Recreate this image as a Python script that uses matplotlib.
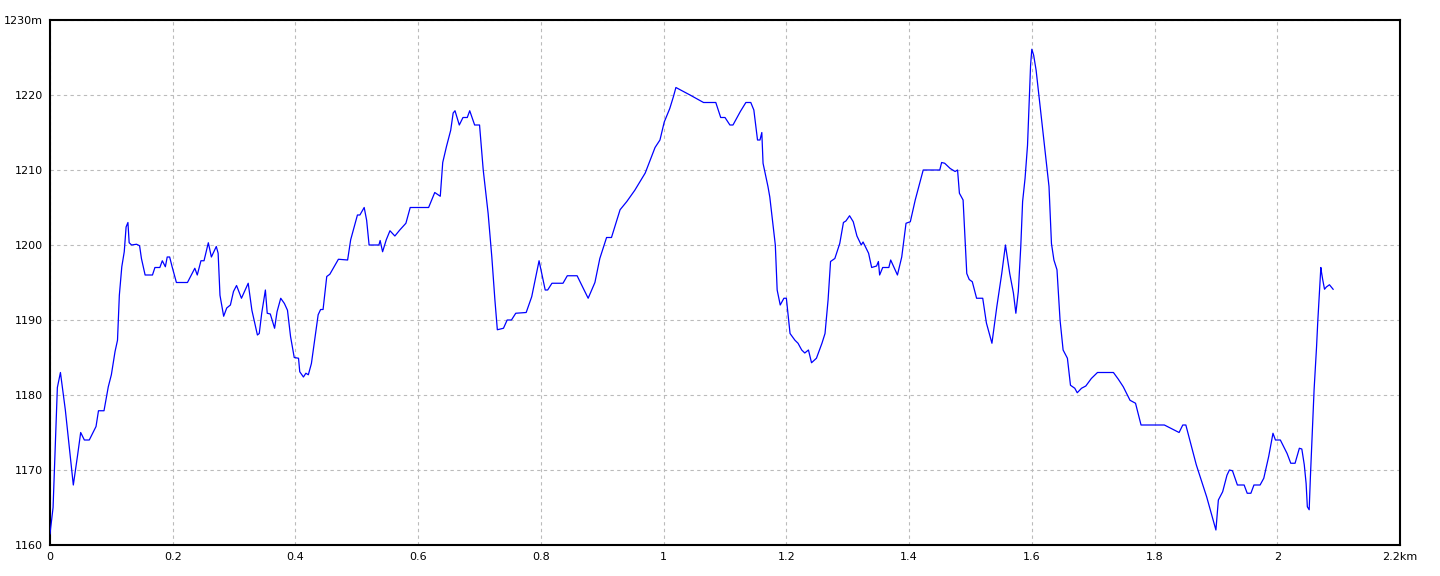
import matplotlib
matplotlib.use("Agg")
import matplotlib.pyplot as plt

dist_km = [
    0.000, 0.005, 0.012, 0.017, 0.025, 0.038, 0.045, 0.050, 0.056, 0.064, 0.075,
    0.079, 0.088, 0.095, 0.100, 0.106, 0.110, 0.113, 0.117, 0.121, 0.124, 0.127,
    0.129, 0.133, 0.141, 0.146, 0.149, 0.155, 0.167, 0.171, 0.179, 0.183, 0.188,
    0.191, 0.195, 0.199, 0.206, 0.224, 0.236, 0.240, 0.246, 0.251, 0.258, 0.263,
    0.271, 0.274, 0.277, 0.283, 0.288, 0.294, 0.299, 0.304, 0.312, 0.323, 0.329,
    0.338, 0.341, 0.345, 0.351, 0.354, 0.359, 0.366, 0.370, 0.376, 0.382, 0.387,
    0.392, 0.398, 0.405, 0.407, 0.413, 0.417, 0.421, 0.426, 0.432, 0.437, 0.441,
    0.445, 0.451, 0.456, 0.470, 0.485, 0.490, 0.495, 0.501, 0.505, 0.512, 0.516,
    0.520, 0.536, 0.538, 0.542, 0.548, 0.554, 0.562, 0.570, 0.580, 0.587, 0.617,
    0.622, 0.627, 0.636, 0.640, 0.646, 0.653, 0.657, 0.660, 0.667, 0.673, 0.680,
    0.684, 0.692, 0.700, 0.706, 0.714, 0.720, 0.725, 0.729, 0.739, 0.745, 0.752,
    0.759, 0.776, 0.785, 0.797, 0.807, 0.811, 0.818, 0.836, 0.843, 0.859, 0.877,
    0.888, 0.896, 0.907, 0.915, 0.929, 0.940, 0.953, 0.970, 0.986, 0.994, 1.001,
    1.010, 1.016, 1.020, 1.043, 1.065, 1.085, 1.093, 1.100, 1.108, 1.113, 1.125,
    1.134, 1.142, 1.147, 1.153, 1.157, 1.160, 1.162, 1.170, 1.173, 1.182, 1.185,
    1.190, 1.196, 1.200, 1.206, 1.214, 1.219, 1.225, 1.230, 1.236, 1.241, 1.249,
    1.258, 1.263, 1.268, 1.272, 1.279, 1.287, 1.293, 1.297, 1.303, 1.309, 1.315,
    1.322, 1.325, 1.334, 1.339, 1.347, 1.350, 1.352, 1.357, 1.367, 1.370, 1.381,
    1.388, 1.395, 1.402, 1.410, 1.423, 1.450, 1.453, 1.458, 1.467, 1.475, 1.479,
    1.482, 1.488, 1.494, 1.498, 1.503, 1.510, 1.520, 1.526, 1.535, 1.543, 1.551,
    1.557, 1.564, 1.570, 1.574, 1.578, 1.582, 1.585, 1.589, 1.593, 1.596, 1.598,
    1.600, 1.603, 1.607, 1.613, 1.621, 1.628, 1.632, 1.636, 1.641, 1.646, 1.651,
    1.658, 1.663, 1.670, 1.674, 1.681, 1.688, 1.697, 1.707, 1.733, 1.741, 1.749,
    1.760, 1.769, 1.778, 1.816, 1.840, 1.846, 1.851, 1.868, 1.885, 1.900, 1.904,
    1.911, 1.918, 1.922, 1.927, 1.935, 1.946, 1.951, 1.957, 1.962, 1.972, 1.978,
    1.986, 1.993, 1.997, 2.005, 2.016, 2.022, 2.029, 2.036, 2.040, 2.044, 2.047,
    2.049, 2.052, 2.054, 2.057, 2.060, 2.064, 2.066, 2.068, 2.070, 2.071, 2.072,
    2.074, 2.077, 2.080, 2.085, 2.091,
]
elev_m = [
    1161.5, 1165.0, 1181.0, 1183.0, 1178.0, 1168.0, 1172.0, 1175.0, 1174.0, 1174.0, 1175.8,
    1177.9, 1177.9, 1181.1, 1182.7, 1185.8, 1187.3, 1193.3, 1197.1, 1199.1, 1202.4, 1203.0,
    1200.3, 1200.0, 1200.1, 1199.9, 1198.2, 1196.0, 1196.0, 1197.0, 1197.0, 1197.9, 1197.1,
    1198.4, 1198.4, 1197.1, 1195.0, 1195.0, 1196.9, 1196.0, 1197.9, 1197.9, 1200.3, 1198.4,
    1199.8, 1198.9, 1193.3, 1190.5, 1191.6, 1192.0, 1193.8, 1194.6, 1192.9, 1194.9, 1191.3,
    1188.0, 1188.2, 1190.9, 1194.0, 1190.9, 1190.8, 1188.9, 1191.1, 1192.9, 1192.2, 1191.3,
    1187.8, 1185.0, 1184.9, 1183.1, 1182.4, 1182.9, 1182.7, 1184.2, 1187.8, 1190.7, 1191.4,
    1191.4, 1195.8, 1196.1, 1198.1, 1198.0, 1200.7, 1202.2, 1204.0, 1204.0, 1205.0, 1203.3,
    1200.0, 1200.0, 1200.6, 1199.1, 1200.7, 1201.9, 1201.2, 1202.0, 1202.9, 1205.0, 1205.0,
    1206.0, 1207.0, 1206.5, 1211.0, 1213.1, 1215.3, 1217.6, 1217.9, 1216.0, 1217.0, 1217.0,
    1217.9, 1216.0, 1216.0, 1210.0, 1204.2, 1198.4, 1192.7, 1188.7, 1188.9, 1190.0, 1190.0,
    1190.9, 1191.0, 1193.1, 1197.9, 1194.0, 1194.0, 1194.9, 1194.9, 1195.9, 1195.9, 1192.9,
    1195.0, 1198.2, 1201.0, 1201.0, 1204.7, 1205.8, 1207.3, 1209.6, 1213.0, 1214.0, 1216.4,
    1218.2, 1219.8, 1221.0, 1220.0, 1219.0, 1219.0, 1217.0, 1217.0, 1216.0, 1216.0, 1217.8,
    1219.0, 1219.0, 1218.0, 1214.0, 1214.0, 1215.0, 1210.9, 1207.8, 1206.4, 1200.0, 1194.0,
    1192.0, 1192.9, 1192.9, 1188.2, 1187.3, 1186.9, 1186.0, 1185.6, 1186.0, 1184.3, 1184.9,
    1186.9, 1188.2, 1192.7, 1197.8, 1198.2, 1200.2, 1203.0, 1203.2, 1203.9, 1203.1, 1201.2,
    1200.0, 1200.4, 1198.9, 1197.0, 1197.2, 1197.8, 1196.0, 1197.0, 1197.0, 1198.0, 1196.0,
    1198.4, 1202.9, 1203.1, 1206.0, 1210.0, 1210.0, 1211.0, 1210.9, 1210.2, 1209.8, 1210.0,
    1206.9, 1206.0, 1196.2, 1195.4, 1195.1, 1192.9, 1192.9, 1189.6, 1186.9, 1191.8, 1196.2,
    1200.0, 1196.2, 1193.6, 1190.9, 1193.8, 1199.8, 1205.8, 1208.9, 1213.3, 1219.8, 1224.0,
    1226.1, 1225.3, 1223.3, 1218.9, 1213.1, 1207.8, 1200.2, 1198.0, 1196.7, 1190.0, 1186.0,
    1184.9, 1181.3, 1180.9, 1180.3, 1180.9, 1181.2, 1182.2, 1183.0, 1183.0, 1182.1, 1181.1,
    1179.3, 1178.9, 1176.0, 1176.0, 1175.0, 1176.0, 1176.0, 1170.7, 1166.4, 1162.0, 1166.0,
    1167.1, 1169.3, 1170.0, 1169.9, 1168.0, 1168.0, 1166.9, 1166.9, 1168.0, 1168.0, 1168.9,
    1171.8, 1174.9, 1174.0, 1174.0, 1172.2, 1170.9, 1170.9, 1172.9, 1172.8, 1170.7, 1168.2,
    1165.1, 1164.7, 1169.1, 1174.9, 1180.7, 1186.4, 1189.8, 1192.7, 1195.6, 1197.0, 1196.4,
    1195.4, 1194.1, 1194.4, 1194.7, 1194.1,
]

x_ticks = [0, 0.2, 0.4, 0.6, 0.8, 1.0, 1.2, 1.4, 1.6, 1.8, 2.0, 2.2]
x_labels = ["0", "0.2", "0.4", "0.6", "0.8", "1", "1.2", "1.4", "1.6", "1.8", "2", "2.2km"]
y_ticks = [1160, 1170, 1180, 1190, 1200, 1210, 1220, 1230]
y_labels = ["1160", "1170", "1180", "1190", "1200", "1210", "1220", "1230m"]

W, H = 1440, 576
fig = plt.figure(figsize=(W / 100, H / 100), dpi=100)
ax = fig.add_axes([50 / W, (H - 545) / H, 1350 / W, 525 / H])

ax.plot(dist_km, elev_m, color="#0000FF", linewidth=0.9, zorder=3)

ax.set_xlim(0, 2.2)
ax.set_ylim(1160, 1230)
ax.set_xticks(x_ticks)
ax.set_xticklabels(x_labels)
ax.set_yticks(y_ticks)
ax.set_yticklabels(y_labels)
ax.tick_params(axis="both", length=0, labelsize=8, colors="black", pad=5)

ax.grid(True, color="#BBBBBB", linestyle=(0, (3, 3)), linewidth=0.8)
for s in ax.spines.values():
    s.set_color("black")
    s.set_linewidth(1.5)

fig.savefig("out.png", dpi=100)
